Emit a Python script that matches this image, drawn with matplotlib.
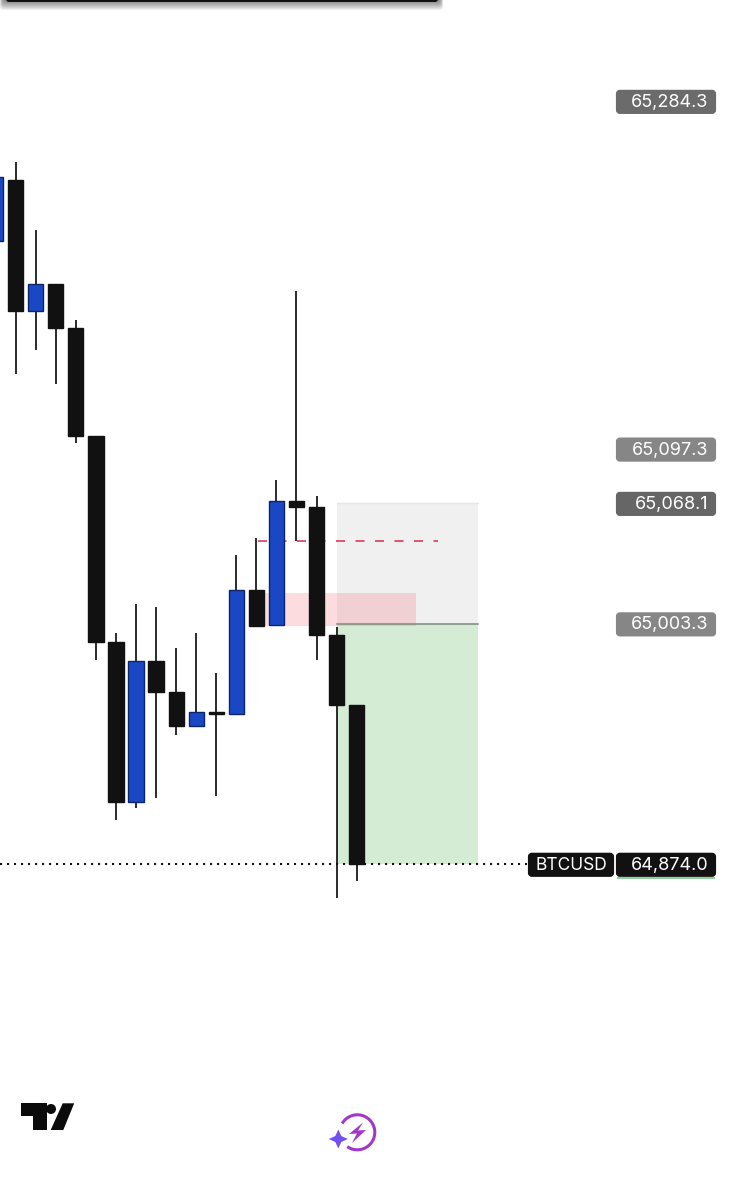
import numpy as np
import matplotlib
matplotlib.use('Agg')
import matplotlib.pyplot as plt
from matplotlib.patches import FancyBboxPatch, Rectangle, Polygon, Circle, Arc

# bougies (index -1 = coupee a gauche)
idx = [-1, 0, 1, 2, 3, 4, 5, 6, 7, 8, 9, 10, 11, 12, 13, 14, 15, 16, 17]
opens = [65209.0, 65241.9, 65171.4, 65185.9, 65162.3, 65104.2, 64993.4, 64907.3, 64983.2, 64966.5,
         64948.2, 64955.7, 64954.7, 65021.4, 65002.5, 65069.2, 65066.0, 64997.2, 64959.5]
closes = [65243.5, 65171.4, 65185.9, 65162.3, 65104.2, 64993.4, 64907.3, 64983.2, 64966.5, 64948.2,
          64955.7, 64954.7, 65021.4, 65002.0, 65069.2, 65066.0, 64997.2, 64959.5, 64874.0]
highs = [65243.5, 65251.5, 65215.0, 65185.9, 65166.6, 65104.2, 64998.2, 65013.8, 65012.2, 64990.2,
         64998.2, 64976.7, 65040.2, 65049.3, 65080.5, 65182.2, 65071.9, 65001.5, 64959.5]
lows = [65209.0, 65137.5, 65150.4, 65132.1, 65100.4, 64983.7, 64897.7, 64904.1, 64909.5, 64943.4,
        64947.7, 64910.6, 64954.7, 65001.5, 65002.0, 65047.7, 64983.7, 64855.7, 64864.9]

entry_price = 65003.3
target_price = 64874.0
stop_price = 65068.1
zone_low = 65002.0
zone_high = 65020.0
dash_price = 65047.7

label_prices = [65284.3, 65097.3, 65068.1, 65003.3]
label_texts = ['65,284.3', '65,097.3', '65,068.1', '65,003.3']
label_colors = ['#6b6b6b', '#868686', '#666666', '#868686']

W, H = 735, 1200
fig = plt.figure(figsize=(W / 100, H / 100), dpi=100, facecolor='white')
ax = fig.add_axes([0, 0, 1, 1])
ax.set_xlim(-0.78, 35.86)
ax.set_ylim(64693.3, 65338.66)
ax.axis('off')

# zones de la position
ax.add_patch(Rectangle((16, entry_price), 7.03, stop_price - entry_price, color='#f0f0f1', lw=0, zorder=1))
ax.add_patch(Rectangle((16, target_price), 7.03, entry_price - target_price, color='#d4ebd4', lw=0, zorder=1))
ax.add_patch(Rectangle((12.4, zone_low), 7.55, zone_high - zone_low, color='#f5505f', alpha=0.2, lw=0, zorder=2))
ax.plot([16, 23.03], [stop_price, stop_price], color='#e6e6e6', lw=1, zorder=2)
ax.plot([16, 23.03], [entry_price, entry_price], color='#7d8a7d', lw=1.1, zorder=3)
ax.plot([12.06, 21.04], [dash_price, dash_price], color='#dc4a64', lw=1.3,
        linestyle=(0, (5, 5.8)), zorder=3)
ax.plot([-0.78, 25.5], [target_price, target_price], color='#111111', lw=1.5,
        linestyle=(0, (1, 2.36)), zorder=3)

# bougies
for i, o, c, h, l in zip(idx, opens, closes, highs, lows):
    up = c > o
    face = '#1a48c4' if up else '#111111'
    edge = '#0c2566' if up else '#111111'
    ax.vlines(i, l, h, color='#111111', lw=1.25, zorder=4)
    ax.bar(i, abs(c - o), bottom=min(o, c), width=0.76, color=face, edgecolor=edge, linewidth=1.0, zorder=5)

# calque en pixels pour les etiquettes et logos
pix = fig.add_axes([0, 0, 1, 1])
pix.set_xlim(0, W)
pix.set_ylim(H, 0)
pix.axis('off')
pix.patch.set_alpha(0)


def price_y(p):
    return 864 - (p - target_price) / 0.5378


def tag(x0, x1, yc, text, color, tx, ha='right', size=13):
    yc = yc + 0.8
    pix.add_patch(FancyBboxPatch((x0 + 2, yc - 10), x1 - x0 - 4, 20, boxstyle='round,pad=0,rounding_size=2',
                                 mutation_aspect=1, fc=color, ec=color, lw=3))
    pix.text(tx, yc + 0.5, text, color='white', fontsize=size, family='Inter', ha=ha, va='center')


for p, t, col in zip(label_prices, label_texts, label_colors):
    tag(616, 716, price_y(p), t, col, 708.5)

tag(528, 614, price_y(target_price), 'BTCUSD', '#111111', 571, ha='center', size=12.5)
tag(616, 716, price_y(target_price), '64,874.0', '#111111', 708.5)
pix.add_patch(Rectangle((617, 876.5), 98, 2, color='#8fd19a', lw=0))

# barre du haut avec ombre
for k in range(9):
    pix.add_patch(FancyBboxPatch((3 - k * 0.4, -8), 437 + k * 0.8, 10 + k, boxstyle='round,pad=0,rounding_size=4',
                                 fc='black', ec='none', alpha=0.06))
pix.add_patch(FancyBboxPatch((6, -6), 432, 8, boxstyle='round,pad=0,rounding_size=3', fc='#111111', ec='none'))

# logo TradingView
pix.add_patch(Polygon([(21.5, 1103.3), (47, 1103.3), (47, 1130), (33, 1130), (33, 1116), (21.5, 1116)],
                      fc='#0b0b0b', lw=0))
pix.add_patch(Circle((51, 1109), 5, fc='#0b0b0b', lw=0))
pix.add_patch(Polygon([(62.7, 1103.3), (74.2, 1103.3), (63.3, 1130), (50.7, 1130)], fc='#0b0b0b', lw=0))

# icone eclair
pix.add_patch(Arc((357.3, 1132.3), 35, 35, theta1=210, theta2=485, color='#a238c8', lw=2.2))
pix.add_patch(Polygon([(363, 1122.5), (349, 1134), (357, 1133.5), (352, 1143), (366, 1130), (358, 1130.5)],
                      fc='#a238c8', lw=0))
sx, sy = 338.3, 1139
pix.add_patch(Polygon([(sx, sy - 9.5), (sx + 3, sy - 3), (sx + 9.5, sy), (sx + 3, sy + 3),
                       (sx, sy + 9.5), (sx - 3, sy + 3), (sx - 9.5, sy), (sx - 3, sy - 3)],
                      fc='#7350f2', lw=0))

fig.savefig('out.png', dpi=100)
